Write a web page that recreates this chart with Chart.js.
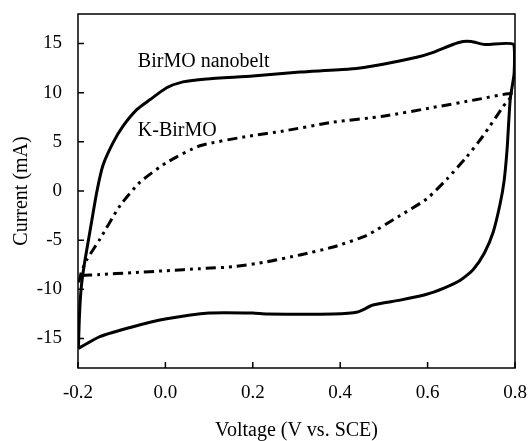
<!DOCTYPE html>
<html>
<head>
<meta charset="utf-8">
<script src="https://cdn.jsdelivr.net/npm/chart.js@4/dist/chart.umd.min.js"></script>
<style>
  html, body { margin: 0; padding: 0; background: #fff; }
  #wrap { width: 528px; height: 441px; }
</style>
</head>
<body>
<div id="wrap"><canvas id="cv" width="528" height="441"></canvas></div>
<script>
// BirMO nanobelt CV loop (V vs SCE, mA)
const birmoV = [-0.199, -0.197, -0.193, -0.186, -0.173, -0.157, -0.143, -0.12, -0.097, -0.065, -0.035, 0.003, 0.04, 0.094, 0.2, 0.308, 0.422, 0.498, 0.575, 0.613, 0.658, 0.681, 0.70, 0.731, 0.797, 0.798, 0.789, 0.782, 0.775, 0.766, 0.75, 0.73, 0.704, 0.674, 0.636, 0.598, 0.537, 0.475, 0.44, 0.384, 0.232, 0.2, 0.1, 0.003, -0.074, -0.15, -0.191, -0.199];
const birmoI = [-16.0, -13.0, -10.0, -7.6, -4.2, -0.1, 2.6, 4.9, 6.6, 8.3, 9.3, 10.5, 11.1, 11.4, 11.7, 12.1, 12.4, 12.9, 13.6, 14.1, 14.9, 15.2, 15.2, 14.9, 14.9, 12.0, 9.3, 4.3, 1.0, -1.3, -4.2, -6.3, -8.0, -9.1, -9.9, -10.5, -11.1, -11.6, -12.3, -12.5, -12.5, -12.4, -12.4, -13.0, -13.8, -14.8, -15.8, -16.0];

// K-BirMO CV loop
const kbirV = [-0.198, -0.192, -0.18, -0.15, -0.104, -0.058, 0.003, 0.079, 0.194, 0.27, 0.384, 0.498, 0.613, 0.713, 0.795, 0.773, 0.727, 0.69, 0.644, 0.598, 0.537, 0.461, 0.384, 0.308, 0.232, 0.155, 0.079, 0.003, -0.074, -0.15, -0.198];
const kbirI = [-9.3, -8.2, -7.0, -4.9, -1.5, 0.9, 2.9, 4.6, 5.6, 6.1, 7.0, 7.6, 8.5, 9.3, 9.9, 8.6, 5.6, 3.5, 1.2, -0.8, -2.5, -4.5, -5.7, -6.5, -7.2, -7.7, -7.9, -8.1, -8.3, -8.5, -8.6];

const xTicks = [-0.2, 0.0, 0.2, 0.4, 0.6, 0.8];
const yTicks = [-15, -10, -5, 0, 5, 10, 15];

const labels = ['BirMO nanobelt', 'K-BirMO'];
const labelV = [-0.063, -0.063];
const labelI = [12.6, 5.6];

const FONT = '"Liberation Serif", "Times New Roman", serif';

function toPoints(xs, ys) {
    return xs.map((x, i) => ({ x: x, y: ys[i] }));
}

// frame, inward ticks and curve labels
const framePlugin = {
    id: 'frame',
    afterDraw(chart) {
        const ctx = chart.ctx;
        const a = chart.chartArea;
        const xs = chart.scales.x;
        const ys = chart.scales.y;
        ctx.save();
        ctx.strokeStyle = '#000';
        ctx.lineWidth = 1.5;
        ctx.strokeRect(a.left, a.top, a.right - a.left, a.bottom - a.top);
        ctx.beginPath();
        xTicks.forEach(v => {
            const px = xs.getPixelForValue(v);
            ctx.moveTo(px, a.bottom);
            ctx.lineTo(px, a.bottom - 6);
        });
        yTicks.forEach(v => {
            const py = ys.getPixelForValue(v);
            ctx.moveTo(a.left, py);
            ctx.lineTo(a.left + 6, py);
        });
        ctx.stroke();
        ctx.fillStyle = '#000';
        ctx.font = '20px ' + FONT;
        ctx.textBaseline = 'alphabetic';
        labels.forEach((t, i) => {
            ctx.fillText(t, xs.getPixelForValue(labelV[i]), ys.getPixelForValue(labelI[i]));
        });
        ctx.restore();
    }
};

new Chart(document.getElementById('cv').getContext('2d'), {
    type: 'scatter',
    data: {
        datasets: [
            {
                label: 'BirMO nanobelt',
                data: toPoints(birmoV, birmoI),
                showLine: true,
                borderColor: '#000',
                borderWidth: 3,
                pointRadius: 0,
                tension: 0.2
            },
            {
                label: 'K-BirMO',
                data: toPoints(kbirV, kbirI),
                showLine: true,
                borderColor: '#000',
                borderWidth: 3,
                borderDash: [10, 5, 3, 5, 3, 5],
                pointRadius: 0,
                tension: 0.2
            }
        ]
    },
    options: {
        responsive: false,
        animation: false,
        layout: { padding: { top: 14, right: 13, left: 0, bottom: 0 } },
        plugins: { legend: { display: false }, tooltip: { enabled: false } },
        scales: {
            x: {
                min: -0.2,
                max: 0.8,
                grid: { display: false },
                border: { display: false },
                afterBuildTicks: s => { s.ticks = xTicks.map(v => ({ value: v })); },
                afterFit: s => { s.height = 73; s.paddingRight = 0; s.paddingLeft = 0; },
                ticks: {
                    color: '#000',
                    padding: 6,
                    font: { family: FONT, size: 19 },
                    callback: v => Number(v).toFixed(1)
                },
                title: {
                    display: true,
                    text: 'Voltage (V vs. SCE)',
                    color: '#000',
                    font: { family: FONT, size: 20, lineHeight: 1 },
                    padding: { top: 0, bottom: 0 }
                }
            },
            y: {
                min: -18,
                max: 18,
                grid: { display: false },
                border: { display: false },
                afterBuildTicks: s => { s.ticks = yTicks.map(v => ({ value: v })); },
                afterFit: s => { s.width = 78; s.paddingTop = 0; s.paddingBottom = 0; },
                ticks: {
                    color: '#000',
                    padding: 8,
                    font: { family: FONT, size: 19 }
                },
                title: {
                    display: true,
                    text: 'Current (mA)',
                    color: '#000',
                    font: { family: FONT, size: 20 },
                    padding: { top: 10, bottom: 0 }
                }
            }
        }
    },
    plugins: [framePlugin]
});
</script>
</body>
</html>
